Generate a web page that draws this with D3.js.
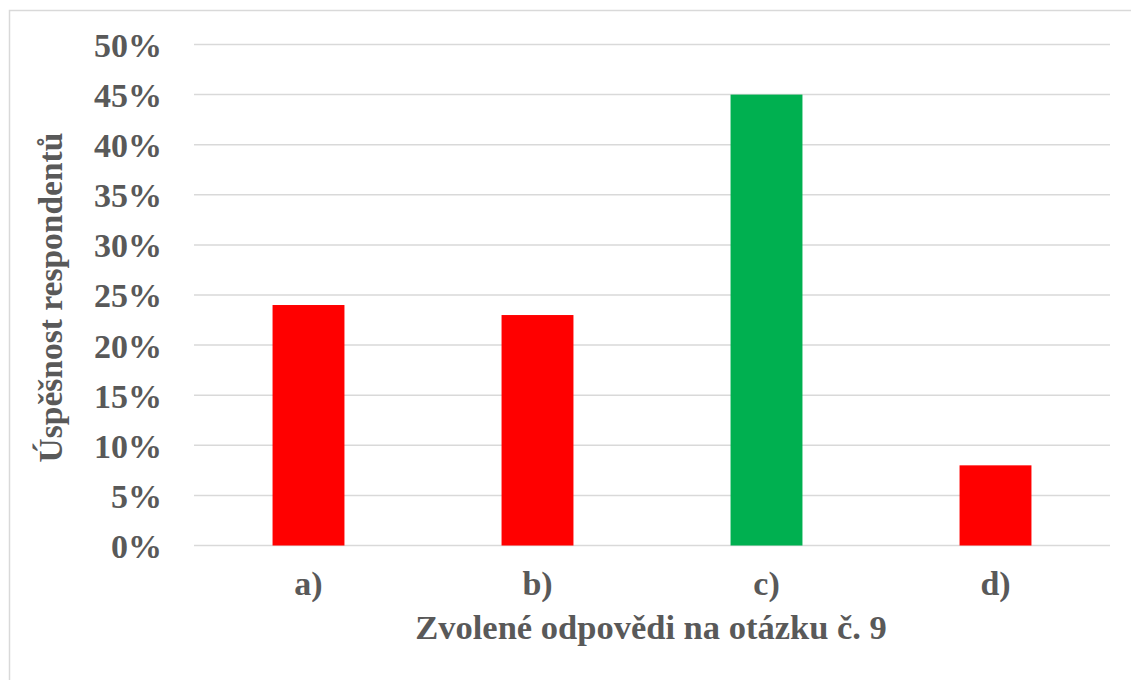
<!DOCTYPE html>
<html>
<head>
<meta charset="utf-8">
<script src="https://cdn.jsdelivr.net/npm/d3@7"></script>
<style>
  html, body { margin: 0; padding: 0; background: #fff; }
  svg { display: block; }
  .axis-label, .tick text { font-family: "Liberation Serif", "Times New Roman", serif; font-weight: bold; fill: #595959; }
</style>
</head>
<body>
<div id="chart"></div>
<script>
const categories = ['a)', 'b)', 'c)', 'd)'];
const values = [24, 23, 45, 8];
const barColors = ['#ff0000', '#ff0000', '#00b050', '#ff0000'];
const yTicks = [0, 5, 10, 15, 20, 25, 30, 35, 40, 45, 50];
const xTitle = 'Zvolené odpovědi na otázku č. 9';
const yTitle = 'Úspěšnost respondentů';

const width = 1131, height = 680;
const margin = {top: 44.5, right: 21, bottom: 134.5, left: 194};

const svg = d3.select('#chart').append('svg')
  .attr('width', width)
  .attr('height', height);

// chart frame (runs off the right and bottom edge)
svg.append('rect')
  .attr('x', 9.5).attr('y', 10.5)
  .attr('width', width + 10).attr('height', height + 10)
  .attr('fill', 'none')
  .attr('stroke', '#d9d9d9')
  .attr('stroke-width', 1.5);

const g = svg.append('g')
  .attr('transform', `translate(${margin.left},${margin.top})`);

const graphWidth = width - margin.left - margin.right;
const graphHeight = height - margin.top - margin.bottom;

//
// Scales
//
const x = d3.scaleBand()
  .domain(categories)
  .range([0, graphWidth])
  .paddingInner(0.686)
  .paddingOuter(0.343);

const y = d3.scaleLinear()
  .domain([0, 50])
  .range([graphHeight, 0]);

//
// Grid + y axis
//
g.append('g')
  .attr('class', 'grid')
  .selectAll('line')
  .data(yTicks)
  .join('line')
  .attr('x1', 0)
  .attr('x2', graphWidth)
  .attr('y1', d => y(d))
  .attr('y2', d => y(d))
  .attr('stroke', '#d9d9d9')
  .attr('stroke-width', 1.5);

const yAxis = g.append('g')
  .call(d3.axisLeft(y).tickValues(yTicks).tickFormat(d => d + '%').tickSize(0).tickPadding(32));
yAxis.select('.domain').remove();
yAxis.selectAll('text').style('font-size', '34px').attr('dy', '0.35em');

//
// Bars
//
g.selectAll('.bar')
  .data(values)
  .join('rect')
  .attr('class', 'bar')
  .attr('x', (d, i) => x(categories[i]))
  .attr('y', d => y(d))
  .attr('width', x.bandwidth())
  .attr('height', d => graphHeight - y(d))
  .attr('fill', (d, i) => barColors[i]);

//
// X axis
//
const xAxis = g.append('g')
  .attr('transform', `translate(0,${graphHeight})`)
  .call(d3.axisBottom(x).tickSize(0).tickPadding(25));
xAxis.select('.domain').remove();
xAxis.selectAll('text').style('font-size', '34px');

//
// Titles
//
svg.append('text')
  .attr('class', 'axis-label')
  .attr('x', 651)
  .attr('y', 639)
  .attr('text-anchor', 'middle')
  .style('font-size', '34.5px')
  .text(xTitle);

svg.append('text')
  .attr('class', 'axis-label')
  .attr('transform', `translate(62,297.5) rotate(-90)`)
  .attr('text-anchor', 'middle')
  .style('font-size', '33.5px')
  .text(yTitle);
</script>
</body>
</html>
